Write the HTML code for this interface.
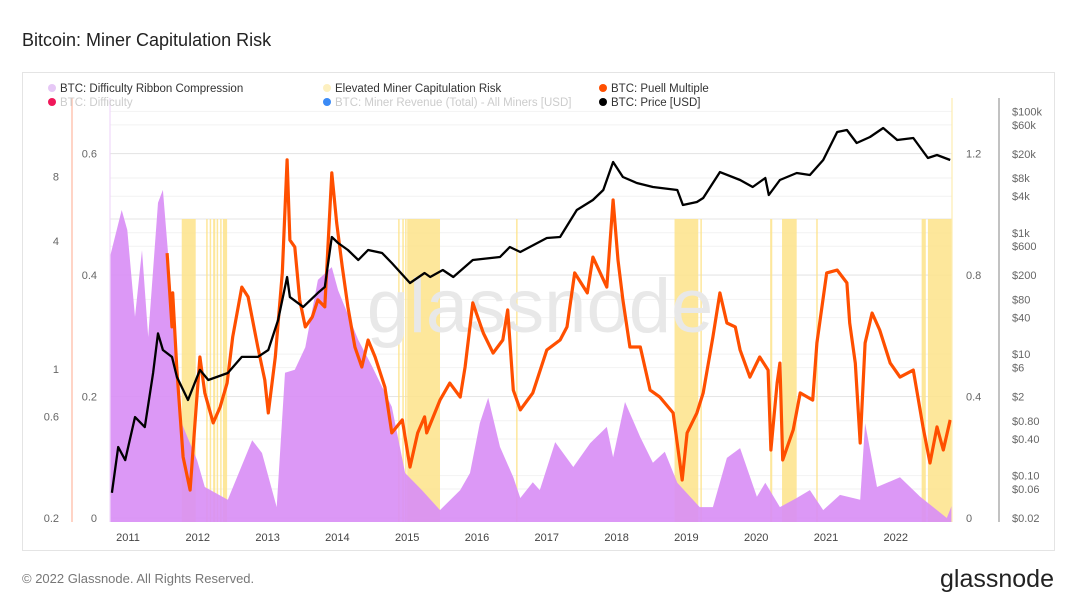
<!DOCTYPE html>
<html><head><meta charset="utf-8"><style>
body{margin:0;background:#fff;font-family:"Liberation Sans",sans-serif;}
#wrap{position:relative;width:1077px;height:606px;overflow:hidden;}
</style></head><body>
<div id="wrap">
<svg id="svg" width="1077" height="606" xmlns="http://www.w3.org/2000/svg">
<text x="22" y="46" font-size="18" fill="#222">Bitcoin: Miner Capitulation Risk</text>
<rect x="22.5" y="72.5" width="1032" height="478" fill="#fff" stroke="#e4e4e4"/>
<g id="grid"></g>
<g id="bands"></g>
<text x="540" y="332" font-size="76" fill="#e8e8e8" text-anchor="middle">glassnode</text>
<g id="series"></g>
<line x1="72" y1="98" x2="72" y2="522" stroke="#ffb8a0" stroke-width="1.2"/>
<line x1="110" y1="98" x2="110" y2="522" stroke="#f0d8fa" stroke-width="1.2"/>
<line x1="952" y1="98" x2="952" y2="522" stroke="#fdecb0" stroke-width="1.2"/>
<line x1="999" y1="98" x2="999" y2="522" stroke="#999" stroke-width="1.2"/>
<g id="axes" font-size="11" fill="#666"></g>
<g font-size="11.5" fill="#333">
 <g><circle cx="52" cy="88" r="4" fill="#e6c8f6"/><text x="60" y="92">BTC: Difficulty Ribbon Compression</text></g>
 <g><circle cx="327" cy="88" r="4" fill="#fdf0c0"/><text x="335" y="92">Elevated Miner Capitulation Risk</text></g>
 <g><circle cx="603" cy="88" r="4" fill="#ff4f00"/><text x="611" y="92">BTC: Puell Multiple</text></g>
 <g><circle cx="52" cy="102" r="4" fill="#f0185a"/><text x="60" y="106" fill="#ccc">BTC: Difficulty</text></g>
 <g><circle cx="327" cy="102" r="4" fill="#3b8af5"/><text x="335" y="106" fill="#ccc">BTC: Miner Revenue (Total) - All Miners [USD]</text></g>
 <g><circle cx="603" cy="102" r="4" fill="#000"/><text x="611" y="106">BTC: Price [USD]</text></g>
</g>
<text x="22" y="583" font-size="13" fill="#777">© 2022 Glassnode. All Rights Reserved.</text>
<text x="1054" y="587" font-size="25" fill="#222" text-anchor="end">glassnode</text>
</svg>
</div>
<script>
const ribbonYears=[2010.74,2010.91,2010.99,2011.10,2011.20,2011.29,2011.43,2011.50,2011.57,2011.77,2011.99,2012.10,2012.43,2012.78,2012.92,2013.13,2013.25,2013.39,2013.54,2013.72,2013.92,2014.01,2014.30,2014.50,2014.78,2014.97,2015.21,2015.47,2015.76,2015.90,2016.04,2016.16,2016.33,2016.52,2016.62,2016.80,2016.90,2017.12,2017.38,2017.62,2017.86,2017.95,2018.12,2018.34,2018.52,2018.69,2018.87,2019.19,2019.38,2019.58,2019.77,2020.01,2020.13,2020.34,2020.58,2020.77,2020.96,2021.20,2021.49,2021.56,2021.73,2022.06,2022.35,2022.73,2022.80];
const ribbonValues=[0.430,0.507,0.474,0.331,0.441,0.298,0.519,0.540,0.441,0.156,0.095,0.051,0.030,0.128,0.107,0.018,0.239,0.244,0.281,0.392,0.413,0.375,0.293,0.249,0.183,0.074,0.046,0.013,0.046,0.074,0.156,0.198,0.117,0.067,0.033,0.059,0.046,0.125,0.084,0.123,0.150,0.100,0.191,0.133,0.091,0.109,0.058,0.018,0.018,0.099,0.115,0.035,0.058,0.018,0.033,0.046,0.013,0.038,0.030,0.156,0.051,0.067,0.035,0.0,0.02];
const puellYears=[2011.56,2011.63,2011.64,2011.70,2011.79,2011.89,2011.96,2012.03,2012.10,2012.22,2012.32,2012.42,2012.50,2012.63,2012.72,2012.86,2012.96,2013.01,2013.11,2013.21,2013.28,2013.32,2013.39,2013.46,2013.54,2013.64,2013.72,2013.82,2013.92,2013.99,2014.07,2014.15,2014.25,2014.35,2014.44,2014.54,2014.68,2014.78,2014.93,2015.04,2015.15,2015.25,2015.28,2015.47,2015.61,2015.76,2015.83,2015.94,2016.09,2016.23,2016.37,2016.44,2016.52,2016.62,2016.80,2017.00,2017.19,2017.29,2017.40,2017.58,2017.66,2017.86,2017.95,2018.02,2018.09,2018.19,2018.34,2018.48,2018.62,2018.81,2018.94,2019.01,2019.15,2019.24,2019.38,2019.48,2019.58,2019.70,2019.77,2019.91,2020.05,2020.17,2020.21,2020.30,2020.34,2020.38,2020.53,2020.63,2020.81,2020.87,2021.01,2021.16,2021.30,2021.34,2021.42,2021.49,2021.56,2021.66,2021.77,2021.92,2022.06,2022.25,2022.39,2022.49,2022.59,2022.68,2022.78];
const puellValues=[0.872,0.629,0.741,0.487,0.201,0.092,0.313,0.530,0.412,0.313,0.365,0.444,0.596,0.760,0.728,0.563,0.454,0.346,0.530,0.807,1.179,0.915,0.892,0.718,0.629,0.662,0.718,0.695,1.136,0.971,0.826,0.695,0.563,0.497,0.586,0.530,0.431,0.280,0.323,0.168,0.280,0.333,0.280,0.388,0.444,0.398,0.497,0.708,0.609,0.543,0.586,0.685,0.421,0.356,0.412,0.553,0.586,0.629,0.807,0.741,0.859,0.760,1.047,0.849,0.718,0.563,0.563,0.421,0.398,0.346,0.125,0.280,0.346,0.412,0.596,0.741,0.642,0.629,0.553,0.464,0.530,0.487,0.224,0.444,0.510,0.191,0.290,0.412,0.388,0.576,0.807,0.816,0.774,0.642,0.510,0.247,0.576,0.675,0.619,0.510,0.464,0.487,0.300,0.181,0.300,0.224,0.323];
const priceYears=[2010.77,2010.86,2010.96,2011.10,2011.24,2011.36,2011.43,2011.50,2011.63,2011.70,2011.86,2012.03,2012.15,2012.43,2012.63,2012.86,2013.01,2013.15,2013.28,2013.32,2013.51,2013.72,2013.82,2013.92,2014.01,2014.15,2014.30,2014.44,2014.64,2014.78,2015.04,2015.25,2015.33,2015.51,2015.66,2015.94,2016.33,2016.47,2016.62,2017.00,2017.19,2017.43,2017.66,2017.81,2017.95,2018.09,2018.29,2018.52,2018.87,2018.95,2019.15,2019.24,2019.48,2019.77,2019.95,2020.13,2020.18,2020.34,2020.58,2020.77,2020.96,2021.16,2021.30,2021.44,2021.63,2021.82,2022.02,2022.25,2022.46,2022.59,2022.78];
const priceValues=[0.052,0.296,0.18,0.92,0.63,4.9,22,11.7,9,4.2,1.76,5.5,3.75,4.9,9,9,11.7,36.6,187,87,60,102,128,851,679,520,356,520,464,318,149,217,187,244,187,356,399,583,482,820,851,2371,3467,5070,14660,8300,6600,5680,5070,2870,3210,3740,10000,7400,5680,7980,4190,7400,9660,8950,15800,45700,49300,30100,37800,53200,33700,36400,17060,19100,15800];
const bandStarts=[2011.77,2012.12,2012.17,2012.22,2012.27,2012.32,2012.36,2014.87,2014.93,2014.97,2015.0,2016.56,2018.83,2019.20,2020.20,2020.37,2020.86,2022.37,2022.46];
const bandEnds=[2011.97,2012.14,2012.19,2012.25,2012.29,2012.34,2012.42,2014.89,2014.95,2014.99,2015.47,2016.58,2019.17,2019.22,2020.23,2020.58,2020.88,2022.43,2022.81];
const yearTicks=[2011,2012,2013,2014,2015,2016,2017,2018,2019,2020,2021,2022];
const puellTicks=[0,0.4,0.8,1.2];
const ribbonTicks=[0,0.2,0.4,0.6];
const difficultyTicks=[0.2,0.6,1,4,8];
const priceTicks=[0.02,0.06,0.1,0.4,0.8,2,6,10,40,80,200,600,1000,4000,8000,20000,60000,100000];
const priceLabels=["$0.02","$0.06","$0.10","$0.40","$0.80","$2","$6","$10","$40","$80","$200","$600","$1k","$4k","$8k","$20k","$60k","$100k"];

const NS="http://www.w3.org/2000/svg";
const X0=110,X1=952,YT=98,YB=522;
const xS=t=>128+(t-2011)*69.8;
const puellY=v=>518-v*303.75;
const ribbonY=v=>518-v*607.5;
const priceY=p=>518-(Math.log10(p)+1.699)*60.7;
const diffY=d=>369-Math.log10(d)*213;
function mk(tag,attrs,parent){const e=document.createElementNS(NS,tag);for(const k in attrs)e.setAttribute(k,attrs[k]);parent.appendChild(e);return e;}
const grid=document.getElementById('grid'),bands=document.getElementById('bands'),series=document.getElementById('series'),axes=document.getElementById('axes');

priceTicks.forEach((p,i)=>{const y=priceY(p);const l=mk('line',{x1:X0,x2:X1,y1:y,y2:y,stroke:'#f2f2f2'},grid);


const t=mk('text',{x:1012,y:y+4},axes);t.textContent=priceLabels[i];

});
puellTicks.forEach(v=>{const y=puellY(v);const l=mk('line',{x1:X0,x2:X1,y1:y,y2:y,stroke:'#e6e6e6'},grid);


const t=mk('text',{x:966,y:y+4},axes);t.textContent=String(v);

});
const l219=mk('line',{x1:X0,x2:X1,y1:219,y2:219,stroke:'#e6e6e6'},grid);


ribbonTicks.forEach(v=>{const t=mk('text',{x:97,y:ribbonY(v)+4,'text-anchor':'end'},axes);t.textContent=String(v);

});
difficultyTicks.forEach(v=>{const t=mk('text',{x:59,y:diffY(v)+4,'text-anchor':'end'},axes);t.textContent=String(v);

});
yearTicks.forEach(yr=>{const t=mk('text',{x:xS(yr),y:541,'text-anchor':'middle',fill:'#444'},axes);t.textContent=String(yr);

});

bandStarts.forEach((s,i)=>{const r=mk('rect',{x:xS(s),y:219,width:Math.max(1.5,xS(bandEnds[i])-xS(s)),height:YB-219,fill:'#fde38a',opacity:0.85},bands);

});

let d='M'+X0+','+YB;
ribbonYears.forEach((t,i)=>{d+=' L'+Math.min(X1,Math.max(X0,xS(t))).toFixed(1)+','+ribbonY(ribbonValues[i]).toFixed(1);});
d+=' L'+X1+','+YB+' Z';
const ra=mk('path',{d:d,fill:'#d98ff5',opacity:0.92},series);



const pd=puellYears.map((t,i)=>(i?'L':'M')+xS(t).toFixed(1)+','+puellY(puellValues[i]).toFixed(1)).join(' ');
const pl=mk('path',{d:pd,fill:'none',stroke:'#ff4f00','stroke-width':3.2,'stroke-linejoin':'round'},series);



const prd=priceYears.map((t,i)=>(i?'L':'M')+xS(t).toFixed(1)+','+priceY(priceValues[i]).toFixed(1)).join(' ');
const prl=mk('path',{d:prd,fill:'none',stroke:'#000','stroke-width':2.3,'stroke-linejoin':'round'},series);


</script>
</body></html>
